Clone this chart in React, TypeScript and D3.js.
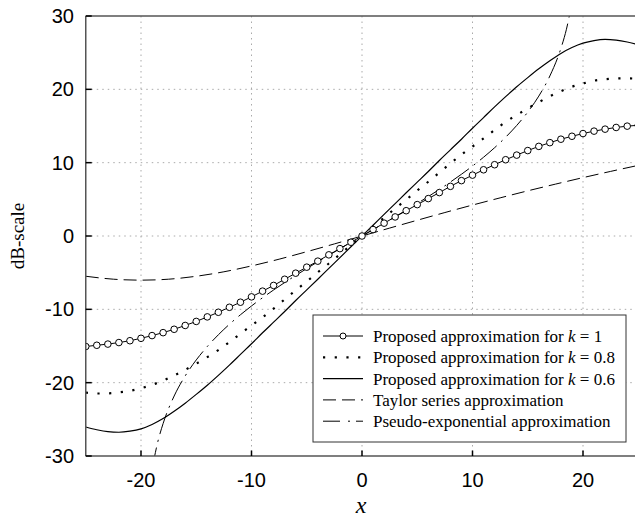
import React from 'react';
import * as d3 from 'd3';

// x positions shared by the three "proposed" curves (one marker per unit)
const xs = [
  -25, -24, -23, -22, -21, -20, -19, -18, -17, -16, -15, -14, -13, -12, -11, -10, -9, -8, -7, -6, -5, -4, -3, -2, -1,
  0, 1, 2, 3, 4, 5, 6, 7, 8, 9, 10, 11, 12, 13, 14, 15, 16, 17, 18, 19, 20, 21, 22, 23, 24, 25,
];

const k1Values = [
  -15.07, -14.9, -14.74, -14.53, -14.28, -13.95, -13.58, -13.18, -12.72, -12.2, -11.65, -11.03, -10.4, -9.72, -9.03, -8.3,
  -7.52, -6.74, -5.9, -5.07, -4.25, -3.43, -2.57, -1.72, -0.85,
  0, 0.88, 1.75, 2.6, 3.45, 4.28, 5.1, 5.92, 6.77, 7.55, 8.3, 9.03, 9.72, 10.4, 11.03, 11.65, 12.22, 12.73, 13.2, 13.6,
  13.97, 14.3, 14.57, 14.8, 14.98, 15.1,
];

const k08Values = [
  -21.36, -21.48, -21.46, -21.32, -21.12, -20.76, -20.3, -19.72, -19.02, -18.25, -17.42, -16.52, -15.56, -14.47, -13.32,
  -12.2, -11.1, -9.9, -8.65, -7.4, -6.2, -4.95, -3.75, -2.5, -1.25,
  0, 1.25, 2.5, 3.75, 4.95, 6.2, 7.4, 8.65, 9.9, 11.1, 12.2, 13.3, 14.45, 15.55, 16.5, 17.4, 18.25, 19.05, 19.75, 20.35,
  20.8, 21.18, 21.38, 21.48, 21.5, 21.42,
];

const k06Values = [
  -26.05, -26.42, -26.68, -26.76, -26.62, -26.3, -25.7, -24.9, -23.9, -22.8, -21.6, -20.35, -19.0, -17.6, -16.15, -14.7,
  -13.2, -11.75, -10.3, -8.8, -7.35, -5.9, -4.42, -2.95, -1.47,
  0, 1.47, 2.95, 4.42, 5.9, 7.35, 8.8, 10.3, 11.75, 13.2, 14.7, 16.15, 17.6, 19.0, 20.35, 21.6, 22.8, 23.9, 24.9, 25.7,
  26.3, 26.65, 26.8, 26.7, 26.45, 26.1,
];

const taylorX = [-25, -22.5, -20, -17.5, -15, -12.5, -10, -7.5, -5, -2.5, 0, 2.5, 5, 7.5, 10, 12.5, 15, 17.5, 20, 22.5, 25];
const taylorValues = [
  -5.49, -5.89, -6.02, -5.89, -5.49, -4.88, -4.08, -3.16, -2.14, -1.08, 0, 1.08, 2.15, 3.2, 4.22, 5.2, 6.16, 7.07, 7.96,
  8.81, 9.63,
];

const pseudoX = [
  -19, -18.5, -18, -17, -16, -15, -14, -13, -12, -11, -10, -9, -8, -7, -6, -5, -4, -3, -2, -1,
  0, 1, 2, 3, 4, 5, 6, 7, 8, 9, 10, 11, 12, 13, 14, 15, 16, 17, 18, 18.5, 19,
];
const pseudoValues = [
  -31.82, -28.19, -25.58, -21.82, -19.08, -16.9, -15.07, -13.47, -12.04, -10.74, -9.54, -8.42, -7.36, -6.35, -5.38, -4.44,
  -3.52, -2.63, -1.74, -0.87,
  0, 0.87, 1.74, 2.63, 3.52, 4.44, 5.38, 6.35, 7.36, 8.42, 9.54, 10.74, 12.04, 13.47, 15.07, 16.9, 19.08, 21.82, 25.58,
  28.19, 31.82,
];

const xTicks = [-20, -10, 0, 10, 20];
const yTicks = [-30, -20, -10, 0, 10, 20, 30];
const gridY = [-20, -10, 0, 10, 20];

const legendLabels = [
  ['Proposed approximation for ', 'k', ' = 1'],
  ['Proposed approximation for ', 'k', ' = 0.8'],
  ['Proposed approximation for ', 'k', ' = 0.6'],
  ['Taylor series approximation'],
  ['Pseudo-exponential approximation'],
];

const W = 635;
const H = 525;

export default function App() {
  const x = d3.scaleLinear().domain([-25, 25]).range([85.75, 638.25]);
  const y = d3.scaleLinear().domain([-30, 30]).range([456, 16]);
  const left = x(-25);
  const top = y(30);
  const bottom = y(-30);

  const line = d3
    .line<[number, number]>()
    .x((d) => x(d[0]))
    .y((d) => y(d[1]))
    .curve(d3.curveMonotoneX);

  const zip = (a: number[], b: number[]) => a.map((v, i) => [v, b[i]] as [number, number]);
  const k1 = zip(xs, k1Values);
  const k08 = zip(xs, k08Values);
  const k06 = zip(xs, k06Values);
  const taylor = zip(taylorX, taylorValues);
  const pseudo = zip(pseudoX, pseudoValues);

  const dotted = { strokeDasharray: '2.2 9.5', strokeWidth: 2.2 };
  const dashed = { strokeDasharray: '13 6', strokeWidth: 1 };
  const dashDot = { strokeDasharray: '22 6 2 6', strokeWidth: 1 };

  const legX = 313;
  const legY = 315;
  const rowH = 21.3;
  const sx0 = 323;
  const sx1 = 363;

  return (
    <svg width={W} height={H} style={{ position: 'absolute', left: 0, top: 0, background: '#fff' }}>
      <defs>
        <clipPath id="plot">
          <rect x={left} y={top} width={W - left} height={bottom - top} />
        </clipPath>
      </defs>

      {/* grid */}
      <g stroke="#aaa" strokeWidth={1} strokeDasharray="1.5 4">
        {xTicks.map((t) => (
          <line key={'gx' + t} x1={x(t)} x2={x(t)} y1={top} y2={bottom} />
        ))}
        {gridY.map((t) => (
          <line key={'gy' + t} x1={left} x2={W} y1={y(t)} y2={y(t)} />
        ))}
      </g>

      {/* curves */}
      <g clipPath="url(#plot)" fill="none" stroke="#000">
        <path d={line(taylor) || ''} {...dashed} />
        <path d={line(pseudo) || ''} {...dashDot} />
        <path d={line(k06) || ''} strokeWidth={1.2} />
        <path d={line(k08) || ''} {...dotted} />
        <path d={line(k1) || ''} strokeWidth={1} />
        {k1.map((d, i) => (
          <circle key={i} cx={x(d[0])} cy={y(d[1])} r={3.3} fill="#fff" stroke="#000" strokeWidth={1} />
        ))}
      </g>

      {/* frame */}
      <g stroke="#555" strokeWidth={1.5} fill="none">
        <line x1={left} x2={W} y1={top} y2={top} />
        <line x1={left} x2={W} y1={bottom} y2={bottom} />
        <line x1={left} x2={left} y1={top} y2={bottom} />
      </g>

      {/* ticks */}
      <g stroke="#000" strokeWidth={1.5}>
        {xTicks.map((t) => (
          <line key={'tx' + t} x1={x(t)} x2={x(t)} y1={bottom} y2={bottom - 5.5} />
        ))}
        {yTicks.map((t) => (
          <line key={'ty' + t} x1={left} x2={left + 6} y1={y(t)} y2={y(t)} />
        ))}
      </g>

      <g fontFamily="'Liberation Sans', Arial, sans-serif" fontSize={20} fill="#000">
        {xTicks.map((t) => (
          <text key={'lx' + t} x={x(t)} y={487} textAnchor="middle">
            {t}
          </text>
        ))}
        {yTicks.map((t) => (
          <text key={'ly' + t} x={74} y={y(t) + 7} textAnchor="end">
            {t}
          </text>
        ))}
      </g>

      <text
        x={361}
        y={513}
        textAnchor="middle"
        fontFamily="'Liberation Serif', 'Times New Roman', serif"
        fontStyle="italic"
        fontSize={24}
      >
        x
      </text>
      <text
        transform={`translate(24, ${(top + bottom) / 2}) rotate(-90)`}
        textAnchor="middle"
        fontFamily="'Liberation Serif', 'Times New Roman', serif"
        fontSize={19}
      >
        dB-scale
      </text>

      {/* legend */}
      <rect x={legX} y={legY} width={313} height={127} fill="#fff" stroke="#333" strokeWidth={1} />
      {legendLabels.map((parts, i) => {
        const cy = legY + 21 + rowH * i;
        const sample = [
          [sx0, 0],
          [sx1, 0],
        ];
        const style = [{ strokeWidth: 1 }, dotted, { strokeWidth: 1.2 }, dashed, { ...dashDot, strokeDasharray: '17 8 2 6' }][i];
        return (
          <g key={i}>
            <line x1={sample[0][0]} x2={sample[1][0]} y1={cy} y2={cy} stroke="#000" {...style} />
            {i === 0 && <circle cx={(sx0 + sx1) / 2} cy={cy} r={3} fill="#fff" stroke="#000" />}
            <text x={373} y={cy + 6} fontFamily="'Liberation Serif', 'Times New Roman', serif" fontSize={17}>
              {parts[0]}
              {parts[1] && <tspan fontStyle="italic">{parts[1]}</tspan>}
              {parts[2]}
            </text>
          </g>
        );
      })}
    </svg>
  );
}
